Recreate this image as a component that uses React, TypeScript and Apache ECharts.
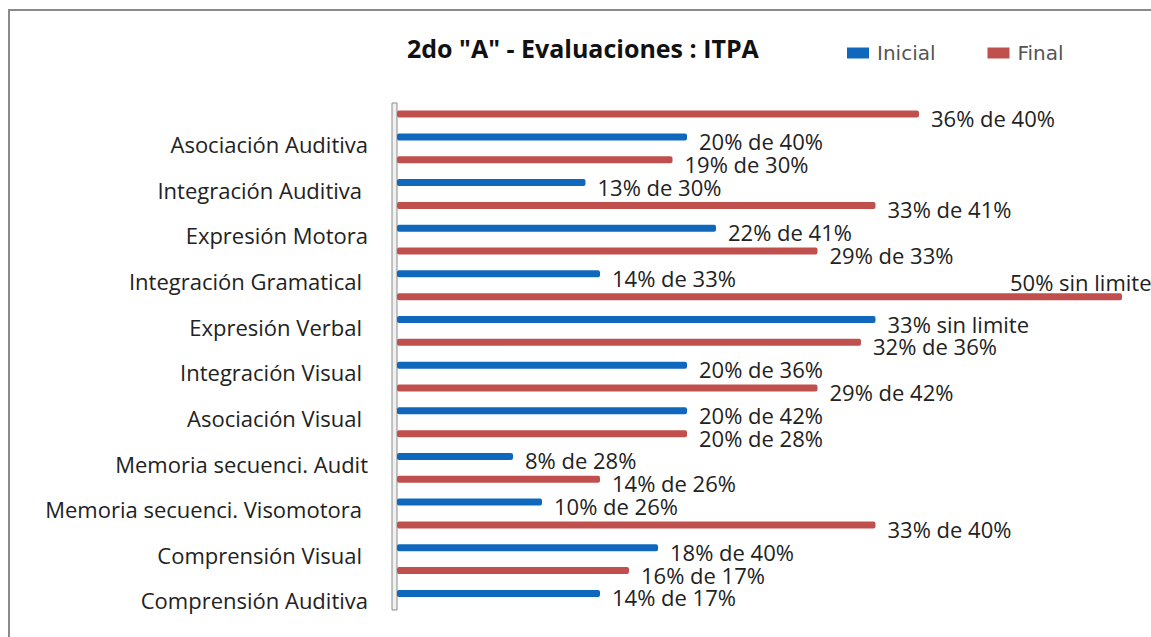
import React, { useEffect, useRef } from "react";
import * as echarts from "echarts";

const categories = [
  "Comprensión Auditiva",
  "Comprensión Visual",
  "Memoria secuenci. Visomotora",
  "Memoria secuenci. Audit",
  "Asociación Visual",
  "Integración Visual",
  "Expresión Verbal",
  "Integración Gramatical",
  "Expresión Motora",
  "Integración Auditiva",
  "Asociación Auditiva",
];
const inicial = [14, 18, 10, 8, 20, 20, 33, 14, 22, 13, 20];
const finalVals = [16, 33, 14, 20, 29, 32, 50, 29, 33, 19, 36];
const limits: (number | null)[] = [17, 40, 26, 28, 42, 36, null, 33, 41, 30, 40];
const paddedLabels = [
  "Comprensión Visual",
  "Memoria secuenci. Visomotora",
  "Asociación Visual",
  "Integración Visual",
  "Expresión Verbal",
  "Integración Gramatical",
  "Integración Auditiva",
];
const titleText = '2do "A" - Evaluaciones : ITPA';

const FONT = "'Open Sans', sans-serif";

function fmt(v: number, i: number) {
  const lim = limits[i];
  return lim === null ? `${v}% sin limite` : `${v}% de ${lim}%`;
}

export default function App() {
  const ref = useRef<HTMLDivElement>(null);
  useEffect(() => {
    if (!ref.current) return;
    const chart = echarts.init(ref.current, null, { renderer: "svg" });
    const labelStyle = {
      show: true,
      position: "right",
      distance: 12,
      offset: [0, 4],
      fontFamily: FONT,
      fontSize: 22,
      lineHeight: 18,
      color: "#222",
      formatter: (p: any) => fmt(p.value, p.dataIndex),
    };
    const finalData = finalVals.map((v, i) =>
      limits[i] === null
        ? {
            value: v,
            label: {
              position: ["100%", 0],
              align: "left",
              verticalAlign: "middle",
              offset: [-112, -11],
            },
          }
        : v
    );
    chart.setOption({
      animation: false,
      backgroundColor: "#fff",
      title: {
        text: titleText,
        left: 402,
        top: 30,
        textStyle: { fontFamily: FONT, fontSize: 25, fontWeight: "bold", color: "#111" },
      },
      legend: {
        data: ["Inicial", "Final"],
        left: 842,
        top: 38,
        icon: "rect",
        itemWidth: 22,
        itemHeight: 11,
        itemGap: 52,
        textStyle: {
          fontFamily: "'DejaVu Sans', sans-serif",
          fontSize: 20,
          color: "#555",
          padding: [0, 0, 0, 3],
        },
      },
      grid: { left: 397, right: 29, top: 102.7, bottom: 32.2 },
      xAxis: {
        type: "value",
        min: 0,
        max: 50,
        show: false,
      },
      yAxis: {
        type: "category",
        data: categories,
        axisLine: { show: false },
        axisTick: { show: false },
        axisLabel: {
          margin: 29,
          fontFamily: FONT,
          fontSize: 22,
          color: "#222",
          padding: [37, 0, 0, 0],
          formatter: (v: string) => (paddedLabels.includes(v) ? `{p|${v}}` : v),
          rich: { p: { padding: [0, 6, 0, 0], fontFamily: FONT, fontSize: 22, color: "#222" } },
        },
      },
      graphic: [
        {
          type: "rect",
          shape: { x: 9, y: 10, width: 1300, height: 800 },
          style: { fill: "none", stroke: "#8a8a8a", lineWidth: 2 },
          z: 0,
        },
        {
          type: "rect",
          shape: { x: 392, y: 103, width: 5, height: 507 },
          style: { fill: "#f0f0f0", stroke: "#8c8c8c", lineWidth: 1 },
          z: 1,
        },
      ],
      series: [
        {
          name: "Final",
          type: "bar",
          data: finalData,
          barWidth: 7,
          barGap: "226%",
          itemStyle: { color: "#c0504d", borderRadius: 2 },
          label: labelStyle,
        },
        {
          name: "Inicial",
          type: "bar",
          data: inicial,
          barWidth: 7,
          barGap: "226%",
          itemStyle: { color: "#1068bd", borderRadius: 2 },
          label: labelStyle,
        },
      ],
    });
    return () => chart.dispose();
  }, []);
  return (
    <div
      ref={ref}
      style={{ position: "fixed", left: 0, top: 0, width: 1151, height: 637 }}
    />
  );
}
